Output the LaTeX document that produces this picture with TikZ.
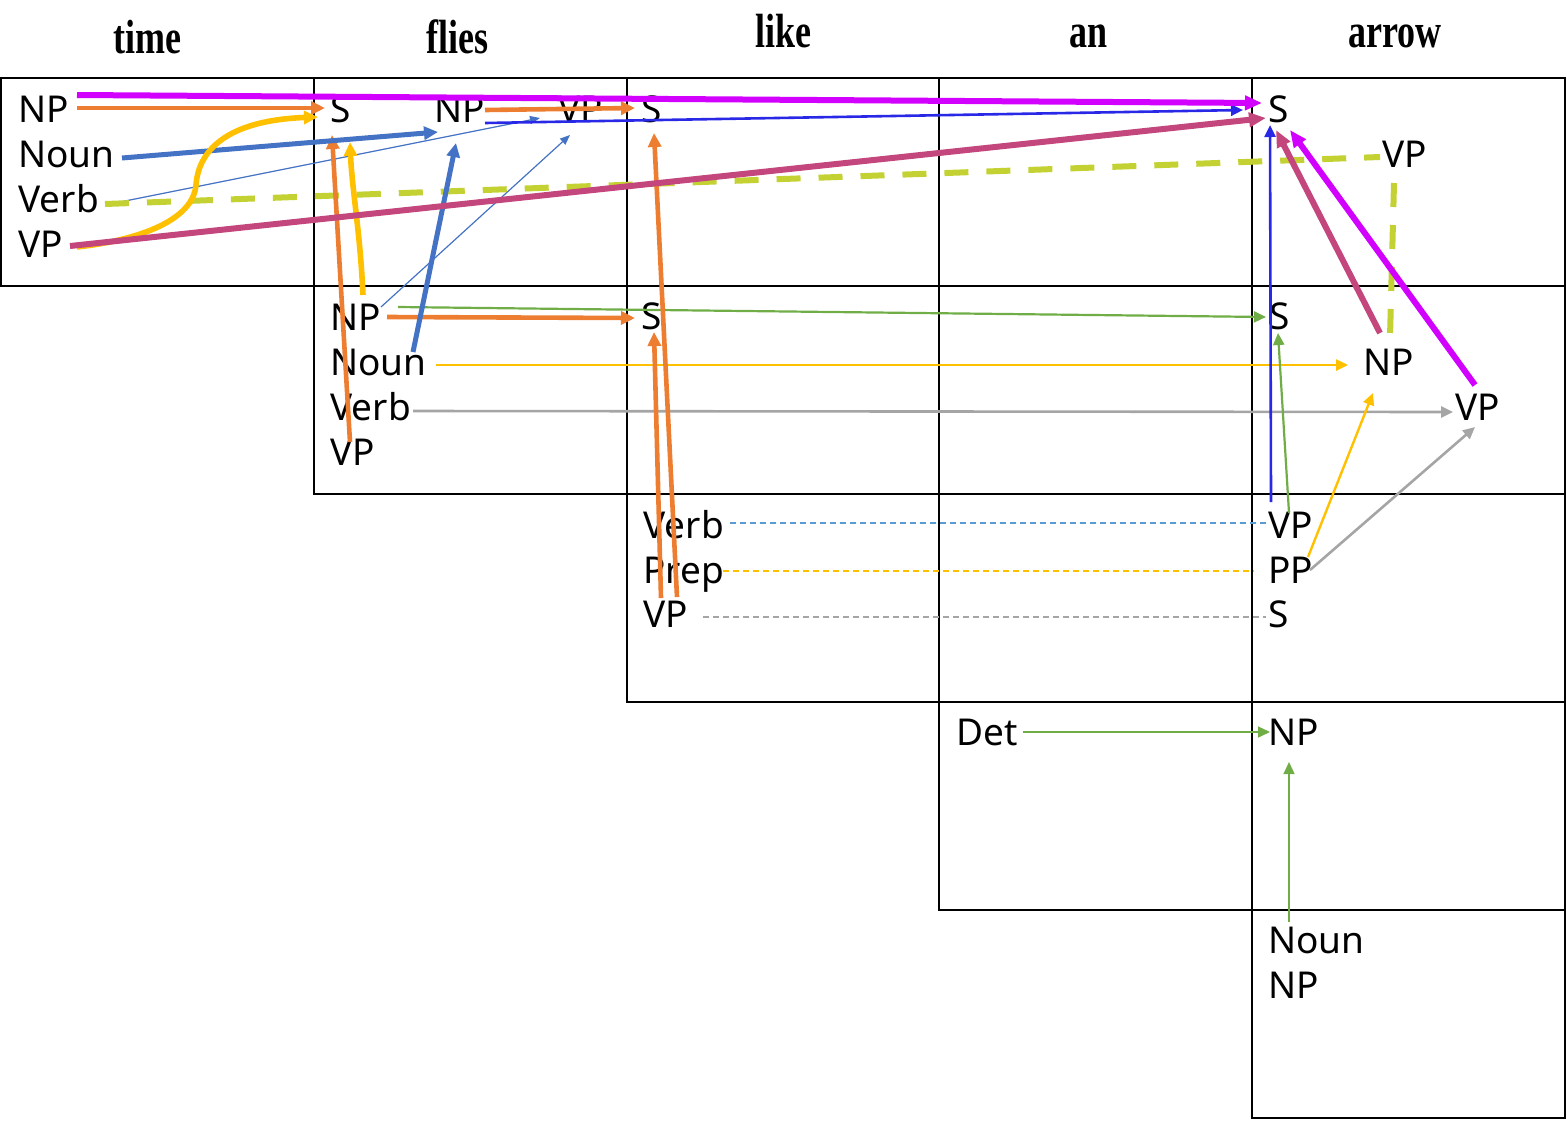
\documentclass[tikz,border=0pt]{standalone}
\usepackage{fontspec}
\setmainfont{Liberation Serif}
\newfontfamily\lblfont{Noto Sans}
\usetikzlibrary{arrows.meta}
\definecolor{cMag}{RGB}{210,0,255}
\definecolor{cOra}{RGB}{237,125,49}
\definecolor{cYel}{RGB}{255,192,0}
\definecolor{cBlu}{RGB}{68,114,196}
\definecolor{cDBlu}{RGB}{40,40,230}
\definecolor{cCri}{RGB}{195,70,125}
\definecolor{cLim}{RGB}{195,210,50}
\definecolor{cGrn}{RGB}{112,173,71}
\definecolor{cGry}{RGB}{165,165,165}
\definecolor{cDsh}{RGB}{91,155,213}
\begin{document}
\begin{tikzpicture}[x=0.5pt,y=-0.5pt,
  lbl/.style={font=\lblfont\fontsize{18.5}{22}\selectfont, inner sep=0pt, anchor=base west},
  hdr/.style={font=\bfseries\fontsize{24}{28}\selectfont, inner sep=0pt, anchor=base},
  cell/.style={draw=black, line width=1pt},
  tipL/.style={-{Triangle[length=8.5pt,width=7pt]}},
  tipM/.style={-{Triangle[length=7pt,width=6.5pt]}},
  tipS/.style={-{Triangle[length=6pt,width=5.5pt]}},
  tipXS/.style={-{Triangle[length=5pt,width=4pt]}},
  magline/.style={draw=cMag, line width=3pt, tipL},
  criline/.style={draw=cCri, line width=3pt, tipL},
  oraline/.style={draw=cOra, line width=2.3pt, tipM},
  yelthick/.style={draw=cYel, line width=2.8pt, tipM},
  bluthick/.style={draw=cBlu, line width=2.5pt, tipM},
  bluthin/.style={draw=cBlu, line width=0.6pt, tipXS},
  dbluline/.style={draw=cDBlu, line width=1.3pt, tipS},
  limdash/.style={draw=cLim, line width=3pt, dash pattern=on 12pt off 9pt},
  grnline/.style={draw=cGrn, line width=1.1pt, tipS},
  grnthin/.style={draw=cGrn, line width=0.65pt, tipS},
  yelthin/.style={draw=cYel, line width=1.2pt, tipS},
  gryline/.style={draw=cGry, line width=1.3pt, tipS},
  thindash/.style={line width=0.8pt, dash pattern=on 3pt off 2pt},
]
\useasboundingbox (0,0) rectangle (1567,1120);
% grid of cells
\foreach \i in {0,...,4}{
  \foreach \j in {\i,...,4}{
    \draw[cell] ({1+312.8*\j},{78+208*\i}) rectangle ({1+312.8*(\j+1)},{78+208*(\i+1)});
  }
}
% headers
\node[hdr] (h0) at (147,53) {\scalebox{0.75}[1]{time}};
\node[hdr] (h1) at (457,53) {\scalebox{0.75}[1]{flies}};
\node[hdr] (h2) at (783,47) {\scalebox{0.75}[1]{like}};
\node[hdr] (h3) at (1088,47) {\scalebox{0.75}[1]{an}};
\node[hdr] (h4) at (1395,47) {\scalebox{0.75}[1]{arrow}};
% cell (0,0): time
\node[lbl] (t0NP)   at (18,122) {NP};
\node[lbl] (t0Noun) at (18,167) {Noun};
\node[lbl] (t0Verb) at (18,212) {Verb};
\node[lbl] (t0VP)   at (18,257) {VP};
% cell (0,1)
\node[lbl] (c01S)  at (330,122) {S};
\node[lbl] (c01NP) at (434,122) {NP};
\node[lbl] (c01VP) at (558,122) {VP};
% cell (0,2)
\node[lbl] (c02S) at (641,122) {S};
% cell (0,4)
\node[lbl] (c04S)  at (1268,122) {S};
\node[lbl] (c04VP) at (1382,167) {VP};
% cell (1,1): flies
\node[lbl] (c11NP)   at (330,330) {NP};
\node[lbl] (c11Noun) at (330,375) {Noun};
\node[lbl] (c11Verb) at (330,420) {Verb};
\node[lbl] (c11VP)   at (330,465) {VP};
% cell (1,2)
\node[lbl] (c12S) at (641,329) {S};
% cell (1,4)
\node[lbl] (c14S)  at (1269,329) {S};
\node[lbl] (c14NP) at (1363,375) {NP};
\node[lbl] (c14VP) at (1455,420) {VP};
% cell (2,2): like
\node[lbl] (c22Verb) at (643,538) {Verb};
\node[lbl] (c22Prep) at (643,583) {Prep};
\node[lbl] (c22VP)   at (643,627) {VP};
% cell (2,4)
\node[lbl] (c24VP) at (1268,538) {VP};
\node[lbl] (c24PP) at (1268,583) {PP};
\node[lbl] (c24S)  at (1268,627) {S};
% cell (3,3): an
\node[lbl] (c33Det) at (956,745) {Det};
% cell (3,4)
\node[lbl] (c34NP) at (1268,745) {NP};
% cell (4,4): arrow
\node[lbl] (c44Noun) at (1268,953) {Noun};
\node[lbl] (c44NP)   at (1268,998) {NP};

% ---- connectors ----
% thin dashed (row 2)
\draw[thindash, draw=cDsh] ([shift={(87,-15)}]c22Verb.base west) -- ([shift={(-2,-15)}]c24VP.base west);
\draw[thindash, draw=cYel] ([shift={(80,-12)}]c22Prep.base west) -- ([shift={(-14,-12)}]c24PP.base west);
\draw[thindash, draw=cGry] ([shift={(60,-10)}]c22VP.base west) -- ([shift={(-2,-10)}]c24S.base west);
% thin solid
\draw[grnthin] ([shift={(67,-13)}]c33Det.base west) -- ([shift={(2,-13)}]c34NP.base west);
\draw[grnthin] ([shift={(21,-31)}]c44Noun.base west) -- ([shift={(21,17)}]c34NP.base west);
\draw[yelthin] ([shift={(106,-10)}]c11Noun.base west) -- ([shift={(-15,-10)}]c14NP.base west);
\draw[gryline] ([shift={(83,-9)}]c11Verb.base west) -- ([shift={(-2,-8)}]c14VP.base west);
\draw[grnline] ([shift={(68,-23)}]c11NP.base west) -- ([shift={(-3,-12)}]c14S.base west);
\draw[grnline] ([shift={(21,-25)}]c24VP.base west) -- ([shift={(9,4)}]c14S.base west);
\draw[yelthin] ([shift={(40,-26)}]c24PP.base west) -- ([shift={(10,18)}]c14NP.base west);
\draw[gryline] ([shift={(42,-13)}]c24PP.base west) -- ([shift={(20,7)}]c14VP.base west);
\draw[bluthin] ([shift={(102,-10)}]t0Verb.base west) -- ([shift={(-18,-4)}]c01VP.base west);
\draw[bluthin] ([shift={(51,-23)}]c11NP.base west) -- ([shift={(12,13)}]c01VP.base west);
\draw[dbluline] ([shift={(51,1)}]c01NP.base west) -- ([shift={(-25,-12)}]c04S.base west);
\draw[dbluline] ([shift={(3,-36)}]c24VP.base west) -- ([shift={(2,3)}]c04S.base west);
% dashed lime
\draw[limdash] ([shift={(87,-8)}]t0Verb.base west) -- ([shift={(-2,-10)}]c04VP.base west);
\draw[limdash] ([shift={(12,16)}]c04VP.base west) -- ([shift={(27,-38)}]c14NP.base west);
% thick
\draw[oraline] ([shift={(59,-14)}]t0NP.base west) -- ([shift={(-5,-14)}]c01S.base west);
\draw[oraline] ([shift={(51,-12)}]c01NP.base west) -- ([shift={(-6,-14)}]c02S.base west);
\draw[oraline] ([shift={(57,-13)}]c11NP.base west) -- ([shift={(-6,-11)}]c12S.base west);
\draw[oraline] ([shift={(20,-23)}]c11VP.base west) -- ([shift={(2,13)}]c01S.base west);
\draw[oraline] ([shift={(18,-29)}]c22VP.base west) -- ([shift={(13,3)}]c12S.base west);
\draw[oraline] ([shift={(34,-30)}]c22VP.base west) -- ([shift={(13,11)}]c02S.base west);
\draw[bluthick] ([shift={(104,-9)}]t0Noun.base west) -- ([shift={(4,10)}]c01NP.base west);
\draw[bluthick] ([shift={(83,-23)}]c11Noun.base west) -- ([shift={(22,21)}]c01NP.base west);
\draw[yelthick] ([shift={(59,-10)}]t0VP.base west) .. controls (140,240) and (193,220) .. (196,185)
   .. controls (199,145) and (235,120) .. ([shift={(-12,-5)}]c01S.base west);
\draw[yelthick] ([shift={(33,-35)}]c11NP.base west) .. controls (360,230) and (352,190) .. ([shift={(20,20)}]c01S.base west);
\draw[criline] ([shift={(52,-11)}]t0VP.base west) -- ([shift={(-2,-4)}]c04S.base west);
\draw[criline] ([shift={(17,-42)}]c14NP.base west) -- ([shift={(8,8)}]c04S.base west);
\draw[magline] ([shift={(59,-27)}]t0NP.base west) -- ([shift={(-6,-19)}]c04S.base west);
\draw[magline] ([shift={(20,-35)}]c14VP.base west) -- ([shift={(22,8)}]c04S.base west);
\end{tikzpicture}
\end{document}
